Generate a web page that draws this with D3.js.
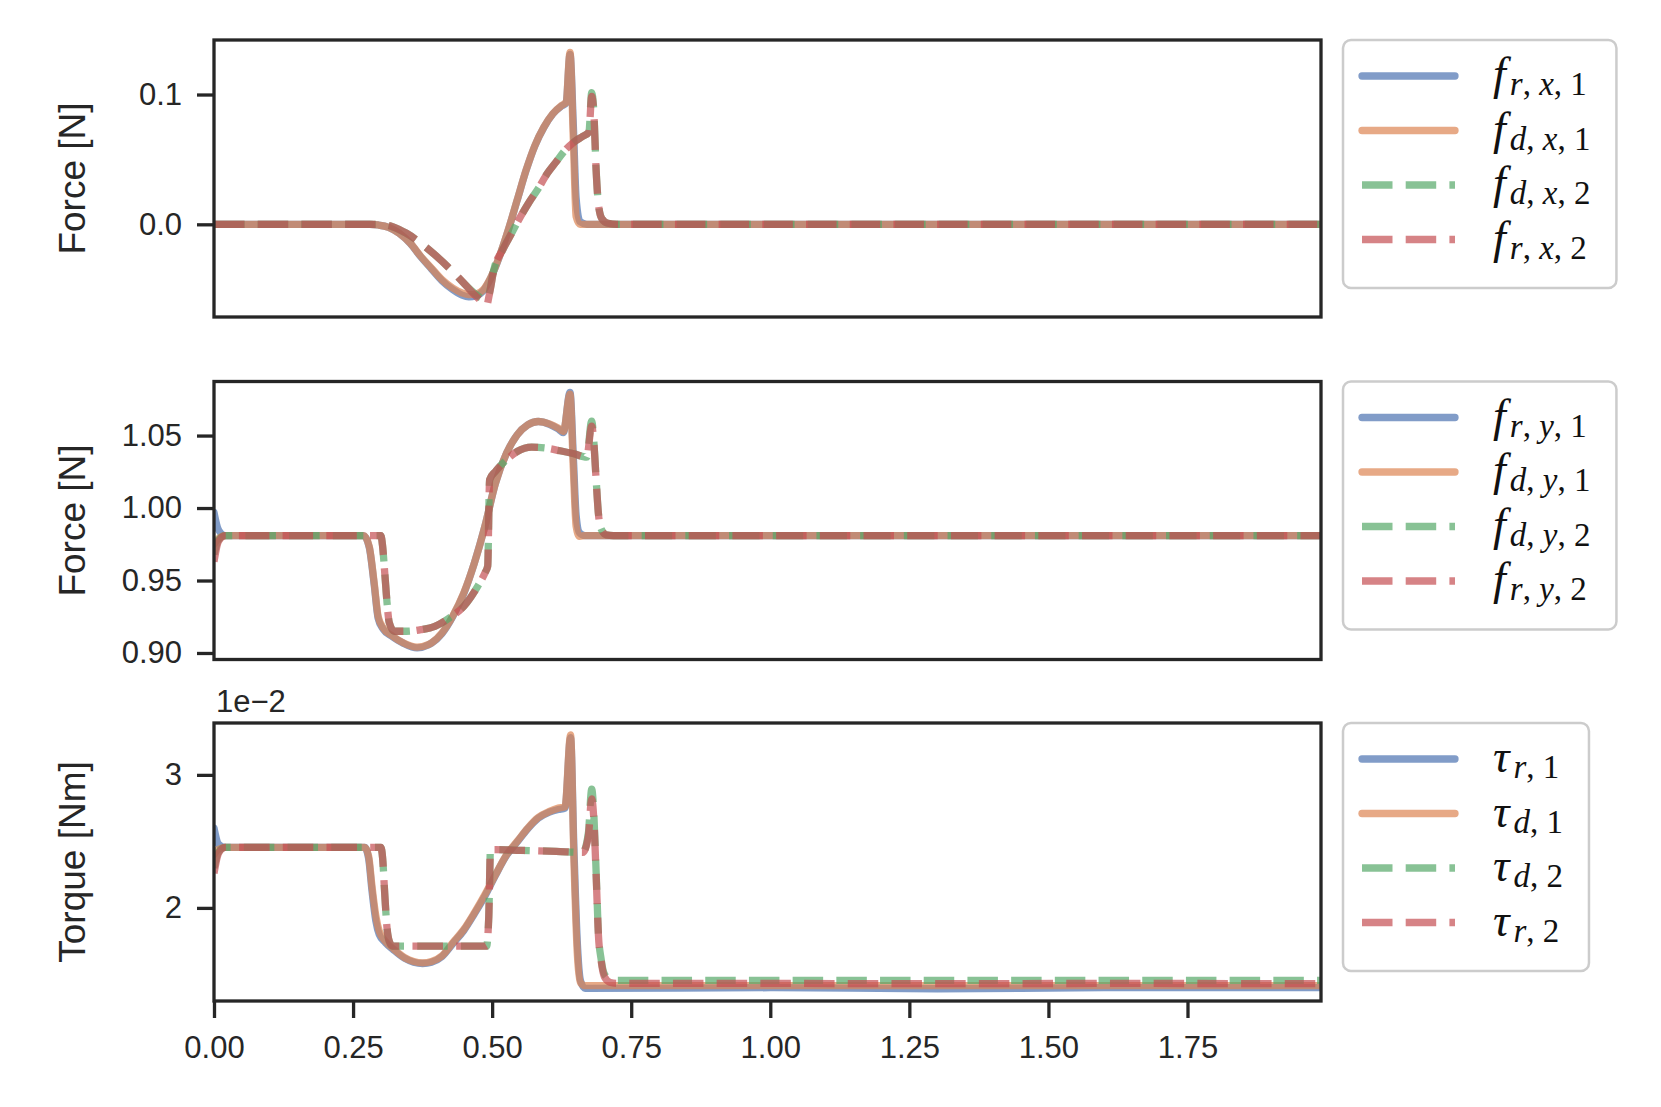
<!DOCTYPE html>
<html>
<head>
<meta charset="utf-8">
<script src="https://cdn.jsdelivr.net/npm/d3@7"></script>
<style>
  html, body { margin: 0; padding: 0; background: #fff; }
  svg { display: block; }
  text { white-space: pre; }
</style>
</head>
<body>
<svg id="chart"></svg>
<script>
// ---- data ----
// x-force, solid pair (r,1 / d,1)
const tFxSolid = [0, 0.28, 0.295, 0.314, 0.333, 0.353, 0.372, 0.391, 0.410, 0.429, 0.446, 0.458, 0.471, 0.484, 0.497, 0.513, 0.529, 0.545, 0.561, 0.577, 0.593, 0.609, 0.625, 0.633, 0.640, 0.646, 0.651, 0.658, 0.67, 1.0, 1.3, 1.6, 1.99];
const fRx1 = [0, 0, -0.0005, -0.0023, -0.0070, -0.0148, -0.0252, -0.0344, -0.0435, -0.0502, -0.0545, -0.0558, -0.0550, -0.0512, -0.0418, -0.0250, -0.0045, 0.0185, 0.0415, 0.0607, 0.0747, 0.0850, 0.0912, 0.0935, 0.1310, 0.0760, 0.0200, 0.0020, 0, 0, 0, 0, 0];
const fDx1 = [0, 0, -0.0005, -0.0023, -0.0069, -0.0146, -0.0248, -0.0338, -0.0427, -0.0491, -0.0529, -0.0542, -0.0537, -0.0504, -0.0414, -0.0248, -0.0043, 0.0187, 0.0417, 0.0609, 0.0749, 0.0852, 0.0916, 0.0941, 0.1325, 0.0647, 0.0059, 0, 0, 0, 0, 0, 0];
// x-force, dashed pair (d,2 / r,2)
const tFxDash = [0, 0.28, 0.295, 0.321, 0.346, 0.372, 0.397, 0.423, 0.449, 0.468, 0.481, 0.490, 0.495, 0.503, 0.519, 0.535, 0.551, 0.567, 0.583, 0.599, 0.615, 0.631, 0.647, 0.663, 0.674, 0.679, 0.683, 0.687, 0.691, 0.697, 0.708, 0.724, 1.0, 1.3, 1.6, 1.99];
const fDx2 = [0, 0, 0, -0.0018, -0.0069, -0.0146, -0.0235, -0.0338, -0.0453, -0.0530, -0.0570, -0.0580, -0.0529, -0.0350, -0.0197, -0.0069, 0.0059, 0.0174, 0.0276, 0.0391, 0.0481, 0.0570, 0.0634, 0.0678, 0.0711, 0.1015, 0.0852, 0.0417, 0.0161, 0.0046, 0.0008, 0, 0, 0, 0, 0];
const fRx2 = [0, 0, 0, -0.0018, -0.0069, -0.0146, -0.0235, -0.0338, -0.0453, -0.0542, -0.0593, -0.0627, -0.0540, -0.0352, -0.0197, -0.0069, 0.0059, 0.0174, 0.0276, 0.0391, 0.0481, 0.0570, 0.0634, 0.0678, 0.0711, 0.0985, 0.0840, 0.0410, 0.0158, 0.0045, 0.0008, 0, 0, 0, 0, 0];

// y-force
const tFySolid = [0, 0.008, 0.02, 0.269, 0.279, 0.288, 0.295, 0.304, 0.321, 0.340, 0.365, 0.385, 0.391, 0.410, 0.429, 0.449, 0.468, 0.487, 0.506, 0.526, 0.545, 0.564, 0.583, 0.603, 0.619, 0.628, 0.640, 0.646, 0.651, 0.657, 0.667, 1.0, 1.5, 1.99];
const fRy1 = [0.997, 0.985, 0.981, 0.981, 0.9730, 0.9470, 0.9240, 0.9165, 0.9112, 0.9068, 0.9035, 0.9055, 0.9068, 0.9135, 0.9250, 0.9410, 0.9620, 0.9874, 1.0172, 1.0379, 1.0505, 1.0574, 1.0597, 1.0578, 1.0545, 1.0520, 1.0797, 1.0350, 0.9950, 0.9830, 0.981, 0.981, 0.981, 0.981];
const fDy1 = [0.975, 0.979, 0.981, 0.981, 0.9736, 0.9483, 0.9253, 0.9173, 0.9116, 0.9070, 0.9040, 0.9058, 0.9070, 0.9139, 0.9253, 0.9414, 0.9620, 0.9874, 1.0172, 1.0379, 1.0505, 1.0574, 1.0597, 1.0581, 1.0551, 1.0528, 1.0785, 1.0264, 0.9874, 0.9805, 0.981, 0.981, 0.981, 0.981];
const tFyDash = [0, 0.008, 0.02, 0.300, 0.303, 0.307, 0.311, 0.315, 0.324, 0.346, 0.372, 0.397, 0.423, 0.449, 0.474, 0.487, 0.492, 0.4955, 0.506, 0.526, 0.545, 0.571, 0.596, 0.622, 0.647, 0.670, 0.679, 0.683, 0.687, 0.691, 0.696, 0.705, 0.718, 1.0, 1.5, 1.99];
const fDy2 = [0.968, 0.978, 0.981, 0.981, 0.974, 0.955, 0.935, 0.921, 0.915, 0.915, 0.9161, 0.9184, 0.9242, 0.9322, 0.9460, 0.9552, 0.9598, 1.0195, 1.0253, 1.0333, 1.0390, 1.0420, 1.0414, 1.0395, 1.0374, 1.0351, 1.0600, 1.0448, 1.0195, 0.9966, 0.9855, 0.9816, 0.981, 0.981, 0.981, 0.981];
const fRy2 = [0.963, 0.977, 0.981, 0.981, 0.974, 0.955, 0.935, 0.921, 0.915, 0.915, 0.9161, 0.9184, 0.9242, 0.9322, 0.9460, 0.9552, 0.9598, 1.0195, 1.0253, 1.0333, 1.0390, 1.0420, 1.0414, 1.0395, 1.0374, 1.0351, 1.0565, 1.0440, 1.0190, 0.9962, 0.9853, 0.9815, 0.981, 0.981, 0.981, 0.981];

// torque (x 1e-2)
const tTauSolid = [0, 0.008, 0.02, 0.271, 0.278, 0.284, 0.291, 0.297, 0.308, 0.324, 0.343, 0.359, 0.375, 0.391, 0.410, 0.429, 0.449, 0.468, 0.487, 0.506, 0.526, 0.545, 0.564, 0.583, 0.603, 0.619, 0.631, 0.641, 0.647, 0.653, 0.659, 0.667, 1.0, 1.3, 1.6, 1.99];
const tauR1 = [2.60, 2.48, 2.455, 2.455, 2.37, 2.13, 1.90, 1.80, 1.74, 1.68, 1.62, 1.592, 1.582, 1.592, 1.635, 1.73, 1.83, 1.955, 2.09, 2.245, 2.395, 2.495, 2.595, 2.675, 2.72, 2.74, 2.75, 3.28, 2.45, 1.75, 1.45, 1.395, 1.40, 1.392, 1.40, 1.40];
const tauD1 = [2.40, 2.44, 2.455, 2.455, 2.3875, 2.1625, 1.9375, 1.825, 1.75, 1.6875, 1.625, 1.597, 1.587, 1.597, 1.64, 1.7375, 1.8375, 1.9625, 2.10, 2.25, 2.40, 2.50, 2.60, 2.68, 2.725, 2.75, 2.76, 3.30, 2.3625, 1.6625, 1.4375, 1.415, 1.415, 1.415, 1.415, 1.415];
const tTauDash = [0, 0.008, 0.02, 0.300, 0.303, 0.307, 0.311, 0.315, 0.321, 0.490, 0.494, 0.497, 0.506, 0.551, 0.615, 0.663, 0.673, 0.679, 0.683, 0.687, 0.691, 0.696, 0.702, 0.712, 0.724, 1.0, 1.3, 1.6, 1.99];
const tauD2 = [2.30, 2.42, 2.455, 2.455, 2.38, 2.10, 1.85, 1.75, 1.7125, 1.7125, 1.9375, 2.4375, 2.4375, 2.4325, 2.425, 2.4175, 2.5625, 2.8925, 2.6875, 2.2625, 1.8125, 1.6125, 1.50, 1.4625, 1.455, 1.455, 1.455, 1.455, 1.455];
const tauR2 = [2.26, 2.41, 2.455, 2.455, 2.38, 2.10, 1.85, 1.75, 1.7125, 1.7125, 1.9375, 2.4375, 2.4375, 2.4325, 2.425, 2.4175, 2.54, 2.82, 2.65, 2.24, 1.80, 1.60, 1.48, 1.44, 1.432, 1.432, 1.43, 1.432, 1.43];

const xTicks = [0, 0.25, 0.5, 0.75, 1.0, 1.25, 1.5, 1.75];
const fxTicks = [0.0, 0.1];
const fyTicks = [0.90, 0.95, 1.00, 1.05];
const tauTicks = [2, 3];

const legendFx = ["f_{r,x,1}", "f_{d,x,1}", "f_{d,x,2}", "f_{r,x,2}"];
const legendFy = ["f_{r,y,1}", "f_{d,y,1}", "f_{d,y,2}", "f_{r,y,2}"];
const legendTau = ["τ_{r,1}", "τ_{d,1}", "τ_{d,2}", "τ_{r,2}"];

// ---- layout / style ----
const W = 1661, H = 1107;
const plotL = 214, plotR = 1321;
const ink = "#262626";
const colors = ["#4C72B0", "#DD8452", "#55A868", "#C44E52"];
const lw = 7.3;
const dash = "30.5,13.2";
const sans = "'Liberation Sans', Arial, sans-serif";
const serif = "'Liberation Serif', 'Times New Roman', serif";

const panels = [
  { top: 40, bottom: 317, domain: [-0.0714, 0.142], ticks: fxTicks, fmt: ".1f", label: "Force [N]",
    series: [[tFxSolid, fRx1], [tFxSolid, fDx1], [tFxDash, fDx2], [tFxDash, fRx2]], legend: legendFx },
  { top: 381.5, bottom: 659.5, domain: [0.8955, 1.0873], ticks: fyTicks, fmt: ".2f", label: "Force [N]",
    series: [[tFySolid, fRy1], [tFySolid, fDy1], [tFyDash, fDy2], [tFyDash, fRy2]], legend: legendFy },
  { top: 723, bottom: 1001, domain: [1.30, 3.39], ticks: tauTicks, fmt: "d", label: "Torque [Nm]",
    series: [[tTauSolid, tauR1], [tTauSolid, tauD1], [tTauDash, tauD2], [tTauDash, tauR2]], legend: legendTau,
    offset: "1e\u22122" },
];

const svg = d3.select("#chart").attr("width", W).attr("height", H);
svg.append("rect").attr("width", W).attr("height", H).attr("fill", "#fff");

const x = d3.scaleLinear().domain([0, 1.99]).range([plotL, plotR]);

// math-ish legend label: base letter italic, subscript list
function addMath(text, lab) {
  const [base, rest] = lab.split("_");
  text.append("tspan").attr("font-style", "italic").text(base);
  const parts = rest.replace(/[{}]/g, "").split(",");
  parts.forEach((s, k) => {
    const ts = text.append("tspan")
      .attr("font-size", 33)
      .attr("font-style", /[a-z]/.test(s) ? "italic" : "normal")
      .text(s);
    if (k === 0) ts.attr("dy", 6).attr("dx", 4);
    if (k < parts.length - 1)
      text.append("tspan").attr("font-size", 33).attr("font-style", "normal").text(", ");
  });
}

panels.forEach((p, pi) => {
  const y = d3.scaleLinear().domain(p.domain).range([p.bottom, p.top]);
  const g = svg.append("g").attr("class", `panel panel-${pi}`);

  const clipId = `clip-${pi}`;
  svg.append("clipPath").attr("id", clipId)
    .append("rect")
    .attr("x", plotL).attr("y", p.top)
    .attr("width", plotR - plotL).attr("height", p.bottom - p.top);

  // 曲线
  const line = d3.line()
    .x(d => x(d[0]))
    .y(d => y(d[1]))
    .curve(d3.curveMonotoneX);

  p.series.forEach(([ts, vs], si) => {
    const pts = ts.map((t, i) => [t, vs[i]]);
    g.append("path")
      .attr("clip-path", `url(#${clipId})`)
      .attr("d", line(pts))
      .attr("fill", "none")
      .attr("stroke", colors[si])
      .attr("stroke-opacity", 0.7)
      .attr("stroke-width", lw)
      .attr("stroke-linejoin", "round")
      .attr("stroke-linecap", si < 2 ? "round" : "butt")
      .attr("stroke-dasharray", si < 2 ? null : dash);
  });

  // y 轴
  const yAxisG = g.append("g")
    .attr("transform", `translate(${plotL},0)`)
    .call(d3.axisLeft(y).tickValues(p.ticks).tickFormat(d3.format(p.fmt))
      .tickSize(17).tickPadding(15).tickSizeOuter(0));
  yAxisG.select(".domain").remove();
  yAxisG.attr("color", ink).attr("font-family", sans).attr("font-size", 31);
  yAxisG.selectAll(".tick line").attr("stroke-width", 3.3);
  yAxisG.selectAll(".tick text").attr("fill", ink);

  // x 轴（只在最下面）
  if (pi === panels.length - 1) {
    const xAxisG = g.append("g")
      .attr("transform", `translate(0,${p.bottom})`)
      .call(d3.axisBottom(x).tickValues(xTicks).tickFormat(d3.format(".2f"))
        .tickSize(17).tickPadding(18).tickSizeOuter(0));
    xAxisG.select(".domain").remove();
    xAxisG.attr("color", ink).attr("font-family", sans).attr("font-size", 31);
    xAxisG.selectAll(".tick line").attr("stroke-width", 3.3);
    xAxisG.selectAll(".tick text").attr("fill", ink);
  }

  // 框
  g.append("rect")
    .attr("x", plotL).attr("y", p.top)
    .attr("width", plotR - plotL).attr("height", p.bottom - p.top)
    .attr("fill", "none")
    .attr("stroke", ink)
    .attr("stroke-width", 3.3);

  // 轴标签
  g.append("text")
    .attr("transform", `translate(85,${(p.top + p.bottom) / 2}) rotate(-90)`)
    .attr("text-anchor", "middle")
    .attr("font-family", sans)
    .attr("font-size", 37)
    .attr("fill", ink)
    .text(p.label);

  if (p.offset) {
    g.append("text")
      .attr("x", plotL + 2)
      .attr("y", p.top - 11)
      .attr("font-family", sans)
      .attr("font-size", 31)
      .attr("fill", ink)
      .text(p.offset);
  }

  // 图例
  const lg = svg.append("g").attr("class", `legend legend-${pi}`);
  const items = lg.append("g");
  p.legend.forEach((lab, i) => {
    const ly = p.top + 36 + i * 54.5;
    items.append("line")
      .attr("x1", 1362).attr("x2", 1455)
      .attr("y1", ly).attr("y2", ly)
      .attr("stroke", colors[i])
      .attr("stroke-opacity", 0.7)
      .attr("stroke-width", lw)
      .attr("stroke-linecap", i < 2 ? "round" : "butt")
      .attr("stroke-dasharray", i < 2 ? null : dash);
    const txt = items.append("text")
      .attr("x", 1493)
      .attr("y", ly + 13)
      .attr("font-family", serif)
      .attr("font-size", 46)
      .attr("fill", "#111");
    addMath(txt, lab);
  });
  const bb = items.node().getBBox();
  lg.insert("rect", ":first-child")
    .attr("x", 1343)
    .attr("y", p.top)
    .attr("rx", 8)
    .attr("width", bb.x + bb.width + 26 - 1343)
    .attr("height", 248)
    .attr("fill", "#fff")
    .attr("fill-opacity", 0.8)
    .attr("stroke", "#cccccc")
    .attr("stroke-width", 2.5);
});
</script>
</body>
</html>
